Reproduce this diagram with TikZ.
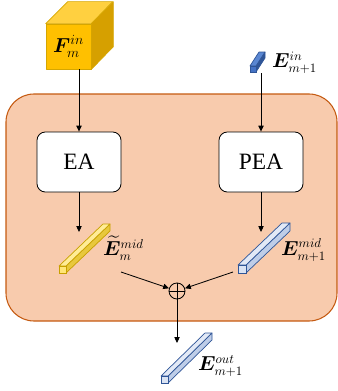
\documentclass[tikz,border=0pt]{standalone}
\usepackage{amsmath}
\usepackage{bm}
\usepackage{fontspec}
\setmainfont{Liberation Serif}
\usetikzlibrary{positioning,arrows.meta}
\definecolor{blockFill}{RGB}{248,203,173}
\definecolor{blockLine}{RGB}{197,90,17}
\definecolor{cubeFront}{RGB}{255,192,0}
\definecolor{cubeTop}{RGB}{255,208,64}
\definecolor{cubeSide}{RGB}{214,160,0}
\definecolor{cubeLine}{RGB}{214,166,0}
\definecolor{yellowBarFront}{RGB}{255,230,120}
\definecolor{yellowBarTop}{RGB}{255,236,150}
\definecolor{yellowBarSide}{RGB}{232,200,60}
\definecolor{yellowBarLine}{RGB}{200,160,0}
\definecolor{blueBarFront}{RGB}{218,227,243}
\definecolor{blueBarTop}{RGB}{226,233,246}
\definecolor{blueBarSide}{RGB}{190,205,232}
\definecolor{blueBarLine}{RGB}{47,85,151}
\definecolor{darkBarFront}{RGB}{68,114,196}
\definecolor{darkBarTop}{RGB}{90,135,210}
\definecolor{darkBarSide}{RGB}{47,85,151}
\definecolor{darkBarLine}{RGB}{47,85,151}
\tikzstyle{diagram} = [x = 0.03cm, y = -0.03cm]
\tikzstyle{outerBlock} = [draw=blockLine, fill=blockFill, rounded corners = .84cm, line width=.9pt]
\tikzstyle{attnBox} = [draw=black, fill=white, rounded corners = .25cm, line width=.7pt, minimum width=2.52cm, minimum height=1.8cm, font=\fontsize{20}{22}\selectfont]
\tikzstyle{flowArrow} = [-{Triangle[length=5pt, width=4.5pt]}, line width=.7pt]
\tikzstyle{tensorLabel} = [anchor=west, inner sep=0pt, font=\fontsize{16}{18}\selectfont]
\tikzstyle{cubeFace} = [draw=cubeLine, line width=.6pt, line join=round]
\newcommand{\featureBar}[6]{
  \filldraw [draw=#6Line, fill=#6Side, line width=.6pt, line join=round] (#1+#3, #2) -- ++(#4, #5) -- ++(0, -#3) -- (#1+#3, #2-#3) -- cycle;
  \filldraw [draw=#6Line, fill=#6Top, line width=.6pt, line join=round] (#1, #2-#3) -- ++(#4, #5) -- ++(#3, 0) -- (#1+#3, #2-#3) -- cycle;
  \filldraw [draw=#6Line, fill=#6Front, line width=.6pt] (#1, #2) rectangle ++(#3, -#3);
}

\begin{document}
\begin{tikzpicture}[diagram]
      \useasboundingbox (0, 0) rectangle (338, 391);
      \draw [outerBlock] (6, 94) rectangle (337, 321);

      \node [attnBox] (eaBox) at (79, 162) {EA};
      \node [attnBox] (peaBox) at (261, 162) {PEA};

      \node [cubeFace, fill=cubeFront, minimum size=1.35cm, inner sep=0pt] (inputFeat) at (68.5, 46.5) {};
      \filldraw [cubeFace, fill=cubeTop] (inputFeat.north west) -- ++(22, -22) -- ++(45, 0) -- (inputFeat.north east) -- cycle;
      \filldraw [cubeFace, fill=cubeSide] (inputFeat.north east) -- ++(22, -22) -- ++(0, 45) -- (inputFeat.south east) -- cycle;
      \node [font=\fontsize{17}{19}\selectfont] at (inputFeat) {$\bm{F}_m^{in}$};

      \featureBar{250}{72}{6}{9}{-14}{darkBar}
      \node [tensorLabel] (inLabel) at (272, 63) {$\bm{E}_{m+1}^{in}$};
      \coordinate (inEmbed) at (261, 73);

      \featureBar{59}{273}{7}{44}{-42}{yellowBar}
      \node [tensorLabel] (eaLabel) at (103, 248) {$\widetilde{\bm{E}}_m^{mid}$};
      \featureBar{238}{273}{8}{44}{-42}{blueBar}
      \node [tensorLabel] (peaLabel) at (281, 250) {$\bm{E}_{m+1}^{mid}$};
      \featureBar{161}{383}{7}{44}{-43}{blueBar}
      \node [tensorLabel] (outLabel) at (198, 366) {$\bm{E}_{m+1}^{out}$};

      \coordinate (eaOut) at (79, 232);
      \coordinate (peaOut) at (261, 232);
      \coordinate (leftTail) at (121, 272);
      \coordinate (rightTail) at (233, 272);
      \coordinate (outHead) at (177, 343);

      \node [draw, circle, line width=.7pt, minimum size=.48cm, inner sep=0pt] (sumNode) at (177, 291) {};
      \draw [line width=.7pt] (sumNode.north) -- (sumNode.south) (sumNode.west) -- (sumNode.east);

      \draw [flowArrow] (inputFeat.south -| eaBox.north) -- (eaBox.north);
      \draw [flowArrow] (inEmbed) -- (peaBox.north);
      \draw [flowArrow] (eaBox.south) -- (eaOut);
      \draw [flowArrow] (peaBox.south) -- (peaOut);
      \draw [flowArrow] (leftTail) -- (sumNode);
      \draw [flowArrow] (rightTail) -- (sumNode);
      \draw [flowArrow] (sumNode) -- (outHead);
    \end{tikzpicture}
\end{document}
